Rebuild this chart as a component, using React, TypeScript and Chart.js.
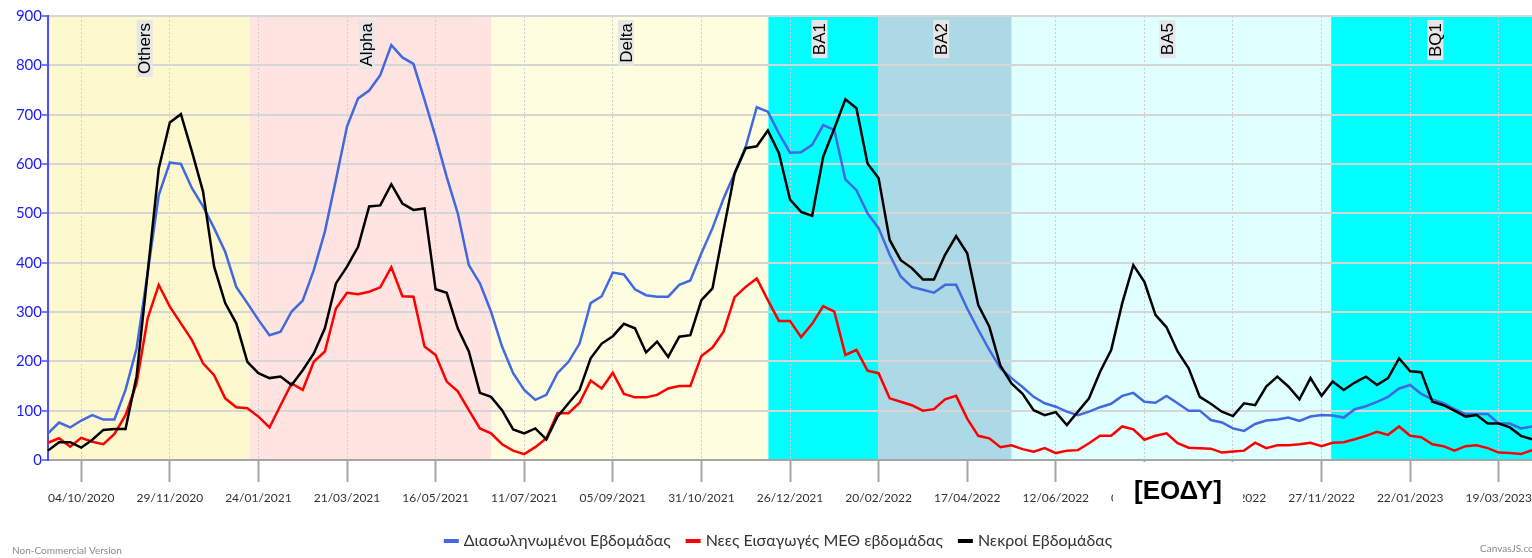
import React, { useEffect, useRef } from 'react';
import { Chart, registerables } from 'chart.js';

Chart.register(...registerables);

// ---------- data ----------
const FIRST_WEEK = [2020, 9, 13]; // year, month, day of first weekly point
const WEEK_COUNT = 135;

const seriesNames = ['Διασωληνωμένοι Εβδομάδας', 'Νεες Εισαγωγές ΜΕΘ εβδομάδας', 'Νεκροί Εβδομάδας'];

const intubated = [
  54, 76, 66, 80, 91, 82, 82, 142, 226, 380, 537, 603, 600, 551, 514, 470, 422, 351, 318, 284,
  253, 260, 301, 323, 385, 463, 568, 676, 733, 749, 780, 841, 816, 803, 730, 655, 574, 500, 395, 358,
  301, 230, 176, 142, 122, 132, 176, 199, 236, 318, 332, 380, 376, 346, 334, 331, 331, 355, 364, 419,
  470, 530, 581, 635, 715, 706, 662, 623, 624, 639, 679, 669, 569, 547, 500, 470, 416, 372, 351, 345,
  339, 355, 355, 307, 264, 223, 186, 166, 148, 128, 115, 108, 98, 91, 98, 107, 114, 130, 136, 118,
  116, 130, 115, 100, 100, 81, 76, 64, 59, 73, 80, 82, 86, 79, 88, 91, 90, 86, 103, 109,
  118, 128, 145, 152, 134, 123, 115, 103, 93, 93, 93, 74, 74, 64, 68,
];

const icuAdmissions = [
  35, 44, 27, 45, 37, 32, 53, 91, 155, 287, 355, 311, 277, 243, 196, 172, 125, 107, 105, 88,
  66, 111, 155, 142, 199, 220, 307, 339, 336, 341, 350, 391, 332, 331, 230, 213, 159, 139, 101, 64,
  54, 32, 19, 12, 26, 44, 95, 95, 116, 161, 145, 177, 134, 127, 127, 132, 145, 150, 150, 211,
  228, 260, 330, 351, 368, 324, 282, 282, 249, 276, 312, 301, 213, 223, 181, 176, 125, 118, 111, 100,
  103, 123, 130, 84, 49, 44, 26, 30, 22, 17, 24, 14, 19, 20, 34, 49, 49, 68, 62, 41,
  49, 54, 34, 25, 24, 23, 15, 17, 19, 35, 24, 30, 30, 32, 35, 28, 35, 36, 42, 49,
  57, 51, 68, 49, 46, 32, 28, 19, 28, 30, 24, 15, 14, 12, 20,
];

const deaths = [
  19, 36, 36, 25, 41, 61, 63, 63, 170, 380, 591, 684, 701, 625, 544, 392, 318, 277, 199, 176,
  166, 169, 152, 182, 216, 267, 358, 392, 432, 514, 516, 559, 520, 507, 510, 346, 339, 267, 220, 136,
  128, 101, 62, 54, 64, 42, 88, 115, 142, 206, 236, 251, 276, 267, 218, 240, 209, 250, 253, 324,
  348, 466, 581, 632, 636, 668, 622, 528, 503, 495, 615, 672, 731, 713, 601, 571, 446, 405, 389, 366,
  366, 416, 454, 419, 314, 270, 191, 155, 134, 101, 91, 97, 71, 98, 125, 179, 223, 318, 395, 361,
  294, 269, 220, 186, 128, 114, 98, 89, 115, 111, 149, 169, 149, 123, 166, 130, 159, 142, 157, 169,
  152, 166, 206, 180, 178, 118, 111, 100, 88, 91, 74, 74, 66, 49, 42,
];

// variant periods, in week-index units
const variantNames = ['Others', 'Alpha', 'Delta', 'BA1', 'BA2', 'BA5', 'BQ1'];
const variantFrom = [0, 18.2, 40.05, 65.05, 75, 87.02, 115.87];
const variantTo = [18.2, 40.05, 65.05, 75, 87.02, 115.87, 135.4];
const variantColors = ['#FDF8CD', '#FFE4E1', '#FFFDE0', '#00FFFF', '#ADD8E6', '#E0FFFF', '#00FFFF'];

const Y_MAX = 900;
const Y_STEP = 100;
const LABEL_FIRST = 3;
const LABEL_EVERY = 8;

const sourceText = '[ΕΟΔΥ]';
const footerLeft = 'Non-Commercial Version';
const footerRight = 'CanvasJS.com';

function weekLabels(): string[] {
  const out: string[] = [];
  for (let i = 0; i < WEEK_COUNT; i++) {
    const d = new Date(Date.UTC(FIRST_WEEK[0], FIRST_WEEK[1] - 1, FIRST_WEEK[2] + 7 * i));
    const dd = String(d.getUTCDate()).padStart(2, '0');
    const mm = String(d.getUTCMonth() + 1).padStart(2, '0');
    out.push(`${dd}/${mm}/${d.getUTCFullYear()}`);
  }
  return out;
}

export default function App() {
  const ref = useRef<HTMLCanvasElement | null>(null);

  useEffect(() => {
    const canvas = ref.current;
    if (!canvas) return;

    const labels = weekLabels();

    const bandsPlugin = {
      id: 'variantBands',
      beforeDraw(chart: any) {
        const { ctx, chartArea: a, scales } = chart;
        const x = scales.x;
        ctx.save();
        ctx.beginPath();
        ctx.rect(a.left, a.top, a.right - a.left, a.bottom - a.top);
        ctx.clip();
        variantNames.forEach((_, i) => {
          const x0 = x.getPixelForValue(variantFrom[i]);
          const x1 = x.getPixelForValue(variantTo[i]);
          ctx.fillStyle = variantColors[i];
          ctx.fillRect(x0, a.top, x1 - x0, a.bottom - a.top);
        });
        ctx.restore();
      },
    };

    const overlayPlugin = {
      id: 'overlays',
      afterDraw(chart: any) {
        const { ctx, chartArea: a, scales } = chart;
        const x = scales.x;

        // variant labels (rotated)
        ctx.save();
        ctx.beginPath();
        ctx.rect(a.left, a.top, a.right - a.left, a.bottom - a.top);
        ctx.clip();
        ctx.font = '17px "Liberation Sans", Arial, sans-serif';
        variantNames.forEach((name, i) => {
          const x0 = x.getPixelForValue(variantFrom[i]);
          const x1 = x.getPixelForValue(variantTo[i]);
          const w = ctx.measureText(name).width;
          const len = w + 6;
          const thick = 16;
          const cx = (x0 + x1) / 2 - 4;
          const top = a.top + 4;
          ctx.save();
          ctx.translate(cx, top + len / 2);
          ctx.rotate(-Math.PI / 2);
          ctx.fillStyle = '#E6E6E6';
          ctx.fillRect(-len / 2, -thick / 2, len, thick);
          ctx.fillStyle = '#000000';
          ctx.textAlign = 'center';
          ctx.textBaseline = 'middle';
          ctx.fillText(name, 0, 1);
          ctx.restore();
        });
        ctx.restore();

        // source box
        ctx.save();
        ctx.fillStyle = '#FFFFFF';
        ctx.fillRect(1113, 462, 130, 48);
        ctx.fillStyle = '#000000';
        ctx.font = 'bold 26px "Liberation Sans", Arial, sans-serif';
        ctx.textAlign = 'center';
        ctx.textBaseline = 'alphabetic';
        ctx.fillText(sourceText, 1178, 499);
        ctx.restore();

        // legend
        const colors = ['#4169E1', '#FF0000', '#000000'];
        ctx.save();
        ctx.font = '16px Lato';
        const sym = 15;
        const gap = 5;
        const spacing = 15;
        const widths = seriesNames.map((n) => ctx.measureText(n).width);
        const total = widths.reduce((s, w) => s + sym + gap + w, 0) + spacing * (seriesNames.length - 1);
        let lx = 778 - total / 2;
        const ly = 541;
        seriesNames.forEach((n, i) => {
          ctx.strokeStyle = colors[i];
          ctx.lineWidth = 4;
          ctx.beginPath();
          ctx.moveTo(lx, ly);
          ctx.lineTo(lx + sym, ly);
          ctx.stroke();
          ctx.fillStyle = '#333333';
          ctx.textAlign = 'left';
          ctx.textBaseline = 'middle';
          ctx.fillText(n, lx + sym + gap, ly);
          lx += sym + gap + widths[i] + spacing;
        });

        // footers
        ctx.font = '10px Lato';
        ctx.fillStyle = '#8A8A8A';
        ctx.textBaseline = 'middle';
        ctx.fillText(footerLeft, 12, 551);
        ctx.fillText(footerRight, 1480, 549);
        ctx.restore();
      },
    };

    const chart = new Chart(canvas, {
      type: 'line',
      data: {
        labels,
        datasets: [
          { label: seriesNames[0], data: intubated, borderColor: '#4169E1', backgroundColor: '#4169E1', borderWidth: 2.5, pointRadius: 0, tension: 0, fill: false, order: 3 },
          { label: seriesNames[1], data: icuAdmissions, borderColor: '#FF0000', backgroundColor: '#FF0000', borderWidth: 2.5, pointRadius: 0, tension: 0, fill: false, order: 2 },
          { label: seriesNames[2], data: deaths, borderColor: '#000000', backgroundColor: '#000000', borderWidth: 2.5, pointRadius: 0, tension: 0, fill: false, order: 1 },
        ],
      },
      options: {
        animation: false,
        responsive: true,
        maintainAspectRatio: false,
        layout: { padding: { top: 16, left: 0, right: 0, bottom: 0 } },
        plugins: {
          legend: { display: false },
          tooltip: { enabled: false },
          title: { display: false },
        },
        scales: {
          x: {
            type: 'category',
            offset: false,
            ticks: {
              autoSkip: false,
              maxRotation: 0,
              minRotation: 0,
              color: '#333333',
              font: { family: 'Lato', size: 12 },
              padding: 9,
            },
            grid: {
              color: '#CFCFCF',
              lineWidth: 1,
              tickLength: 22,
              tickColor: '#A6A6A6',
              tickWidth: 2,
              tickBorderDash: [],
            },
            border: { color: '#A6A6A6', width: 2, dash: [2, 2] },
            afterBuildTicks: (s: any) => {
              s.ticks = s.ticks.filter((t: any) => t.value >= LABEL_FIRST && (t.value - LABEL_FIRST) % LABEL_EVERY === 0);
            },
            afterFit: (s: any) => {
              s.height = 98;
              s.paddingLeft = 0;
              s.paddingRight = 0;
            },
          },
          y: {
            min: 0,
            max: Y_MAX,
            ticks: {
              stepSize: Y_STEP,
              color: '#1A1AFF',
              font: { family: 'Lato', size: 15 },
              padding: 0,
            },
            grid: {
              color: '#D6D6D6',
              lineWidth: 2,
              tickLength: 6,
              tickColor: '#4D4DFF',
              tickWidth: 1.5,
            },
            border: { color: '#4D4DFF', width: 2 },
            afterFit: (s: any) => {
              s.width = 48;
              s.paddingTop = 0;
              s.paddingBottom = 0;
            },
          },
        },
      } as any,
      plugins: [bandsPlugin, overlayPlugin],
    });

    return () => {
      chart.destroy();
    };
  }, []);

  return (
    <div style={{ position: 'fixed', left: 0, top: 0, width: 1532, height: 558, background: '#FFFFFF' }}>
      <canvas ref={ref} />
    </div>
  );
}
